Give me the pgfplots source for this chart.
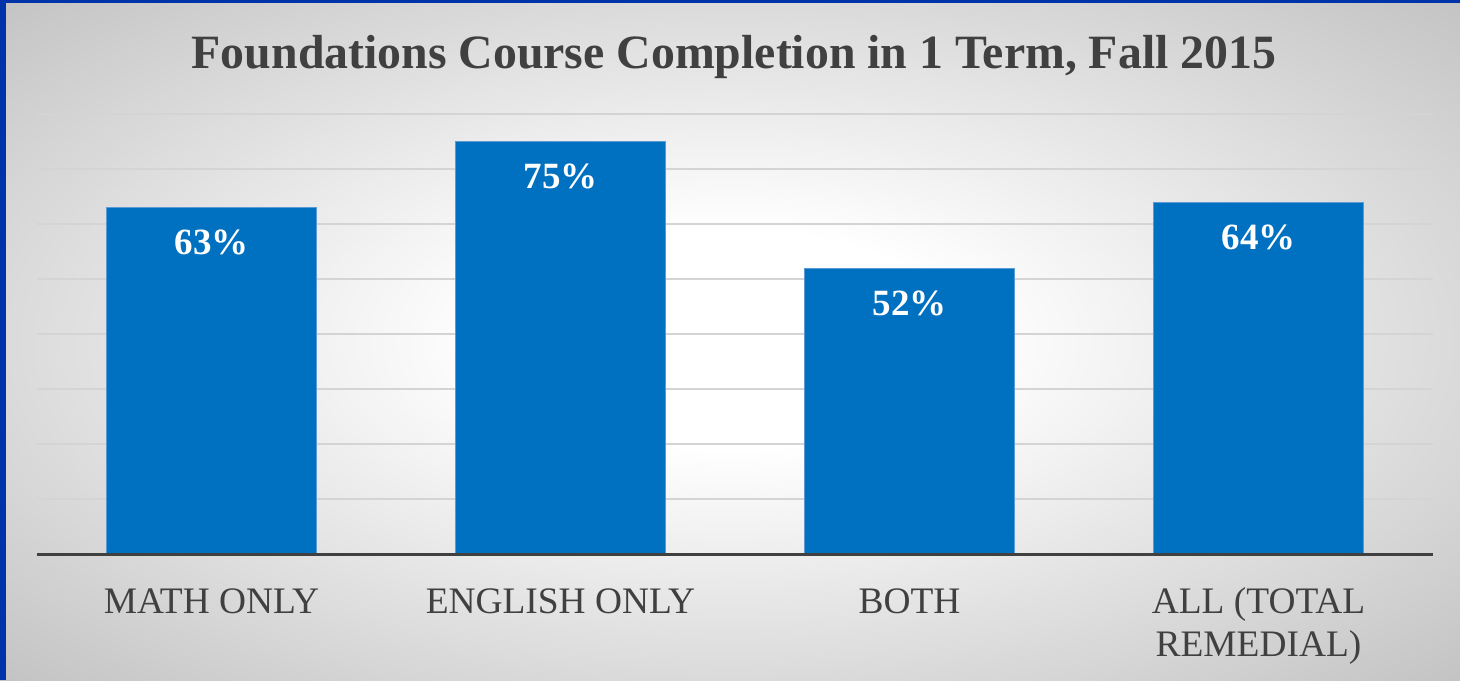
\documentclass[border=0pt]{standalone}
\usepackage{pgfplots}
\pgfplotsset{compat=1.18}
\usepackage{fontspec}
\setmainfont{Liberation Serif}
\definecolor{barblue}{HTML}{0070C0}
\definecolor{baredge}{HTML}{5B9BD5}
\definecolor{txtgrey}{HTML}{404040}
\definecolor{gridgrey}{HTML}{D4D4D4}
\definecolor{bordblue}{HTML}{0033A8}
\definecolor{bgouter}{HTML}{C2C2C2}
\pgfdeclareradialshading{bgshade}{\pgfpoint{0bp}{0bp}}{color(0bp)=(white); color(8bp)=(white); color(36bp)=(bgouter); color(50bp)=(bgouter)}
\begin{document}
\begin{tikzpicture}
\useasboundingbox (0,0) rectangle (730pt,340pt);
\shade[shading=bgshade] (0,0) rectangle (730pt,340pt);
\fill[bordblue] (0,0) rectangle (3pt,340pt);
\fill[bordblue] (0,338.5pt) rectangle (730pt,340pt);
\node[anchor=base, text=txtgrey, font=\fontsize{23.9}{28}\selectfont\bfseries, inner sep=0pt] at (367pt,305.5pt) {Foundations Course Completion in 1 Term, Fall 2015};
\begin{axis}[
  at={(18.5pt,63pt)}, anchor=south west,
  scale only axis, width=698pt, height=220pt,
  xmin=-0.5, xmax=3.5, ymin=0, ymax=80,
  clip=false,
  axis line style={draw=none},
  ytick={10,20,30,40,50,60,70,80},
  yticklabels={},
  ymajorgrids,
  grid style={gridgrey, line width=0.75pt},
  major tick length=0pt,
  xtick={0,1,2,3},
  xticklabels={MATH ONLY, ENGLISH ONLY, BOTH, {\begin{tabular}[t]{@{}c@{}}ALL (TOTAL\\REMEDIAL)\end{tabular}}},
  xticklabel style={anchor=base, yshift=-29.5pt, inner sep=0pt, text=txtgrey, font=\fontsize{18.7}{21.5}\selectfont},
  ybar, bar width=105pt,
  /pgf/number format/assume math mode=true,
  nodes near coords={\pgfmathprintnumber[assume math mode=true]{\pgfplotspointmeta}\%},
  every node near coord/.append style={anchor=base, yshift=-23.5pt, inner sep=0pt, text=white, font=\fontsize{18.5}{22}\selectfont\bfseries},
]
\addplot[fill=barblue, draw=baredge, line width=0.5pt] coordinates {(0,63) (1,75) (2,52) (3,64)};
\draw[txtgrey, line width=1.5pt] (axis cs:-0.5,0) -- (axis cs:3.5,0);
\end{axis}
\end{tikzpicture}
\end{document}
